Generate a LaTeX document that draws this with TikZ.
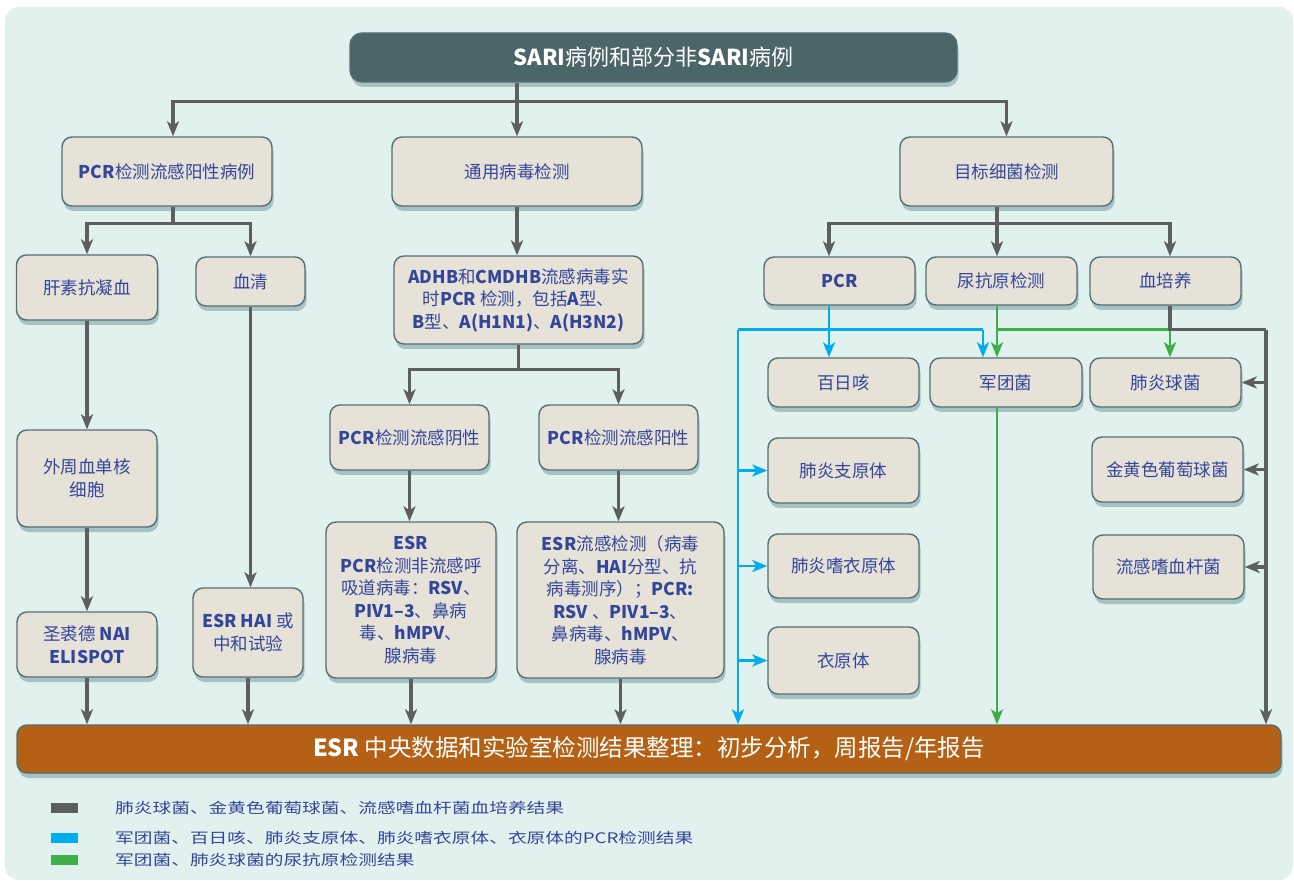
\documentclass[tikz,border=0pt]{standalone}
\usepackage{fontspec}
\setmainfont{Noto Sans CJK SC}
\newfontfamily\legfont{Noto Sans CJK SC}[FakeStretch=1.29]
\usetikzlibrary{arrows.meta,shadows,calc}
\definecolor{panel}{HTML}{E1F1EE}
\definecolor{boxfill}{HTML}{E6E2D8}
\definecolor{boxdraw}{HTML}{566E73}
\definecolor{topfill}{HTML}{4B6569}
\definecolor{barfill}{HTML}{B46015}
\definecolor{tx}{HTML}{34469A}
\definecolor{lgrey}{HTML}{5E5E60}
\definecolor{lblue}{HTML}{00AEEF}
\definecolor{lgreen}{HTML}{3DAE49}
\definecolor{shad}{HTML}{5F8A90}
\begin{document}
\begin{tikzpicture}[x=1pt,y=-1pt,
  box/.style={draw=boxdraw, line width=1.4pt, fill=boxfill, rounded corners=10pt,
    align=center, text=tx, font=\fontsize{17.5}{22.5}\selectfont, inner sep=2pt,
    drop shadow={shadow xshift=1.5pt, shadow yshift=-5pt, fill=shad, opacity=0.45}},
  gline/.style={draw=lgrey, line width=3.2pt},
  garr/.style={gline, -{Stealth[length=15pt,width=12pt,inset=4pt]}},
  bline/.style={draw=lblue, line width=2.9pt},
  barr/.style={bline, -{Stealth[length=15pt,width=12pt,inset=4pt]}},
  gnline/.style={draw=lgreen, line width=2.9pt},
  gnarr/.style={gnline, -{Stealth[length=15pt,width=12pt,inset=4pt]}},
  legsw/.style={minimum width=27pt, minimum height=10pt, inner sep=0pt},
  legtext/.style={anchor=west, text=tx, font=\legfont\fontsize{14.5}{17}\selectfont, inner sep=0pt}
]
\useasboundingbox (0,0) rectangle (1294,882);
\fill[panel, rounded corners=14pt] (5,7) rectangle (1293,880);

% top and bottom bars
\node[box, fill=topfill, text=white, rounded corners=12pt, font=\fontsize{22}{26}\selectfont,
  minimum width=607pt, minimum height=49pt] (top) at (653.5,57.5) {\textbf{SARI}病例和部分非\textbf{SARI}病例};
\node[box, fill=barfill, text=white, rounded corners=10pt, font=\fontsize{23.5}{27}\selectfont,
  minimum width=1264pt, minimum height=48pt] (bar) at (649,749) {\textbf{ESR} 中央数据和实验室检测结果整理：初步分析，周报告/年报告};

% row 2
\node[box, minimum width=210pt, minimum height=69pt] (A) at (167,171.5) {\textbf{PCR}检测流感阳性病例};
\node[box, minimum width=250pt, minimum height=69pt] (B) at (517,171.5) {通用病毒检测};
\node[box, minimum width=213pt, minimum height=69pt] (C) at (1006.5,171.5) {目标细菌检测};

% left branch
\node[box, minimum width=141pt, minimum height=65pt] (gan) at (87,287.5) {肝素抗凝血};
\node[box, minimum width=109pt, minimum height=49pt] (xq) at (250.5,281.5) {血清};
\node[box, minimum width=140pt, minimum height=97pt] (wz) at (87,478.5) {外周血单核\\细胞};
\node[box, minimum width=140pt, minimum height=65pt] (nai) at (87,644.5) {圣裘德 \textbf{NAI}\\\textbf{ELISPOT}};
\node[box, minimum width=110pt, minimum height=89pt] (hai) at (248,632.5) {\textbf{ESR HAI} 或\\中和试验};

% middle branch
\node[box, minimum width=249pt, minimum height=88pt] (adhb) at (518.5,300) {\textbf{ADHB}和\textbf{CMDHB}流感病毒实\\时\textbf{PCR} 检测，包括\textbf{A}型、\\\textbf{B}型、\textbf{A(H1N1)}、\textbf{A(H3N2)}};
\node[box, minimum width=159pt, minimum height=65pt] (neg) at (409.5,437.5) {\textbf{PCR}检测流感阴性};
\node[box, minimum width=159pt, minimum height=65pt] (pos) at (618.5,437.5) {\textbf{PCR}检测流感阳性};
\node[box, minimum width=170pt, minimum height=156pt] (esrl) at (411,600) {\textbf{ESR}\\\textbf{PCR}检测非流感呼\\吸道病毒：\textbf{RSV}、\\\textbf{PIV1–3}、鼻病\\毒、\textbf{hMPV}、\\腺病毒};
\node[box, minimum width=207pt, minimum height=156pt] (esrr) at (620.5,600) {\textbf{ESR}流感检测（病毒\\分离、\textbf{HAI}分型、抗\\病毒测序）；\textbf{PCR:}\\\textbf{RSV} 、\textbf{PIV1–3}、\\鼻病毒、\textbf{hMPV}、\\腺病毒};

% right branch
\node[box, minimum width=151pt, minimum height=48pt] (pcr) at (839.5,281) {\textbf{PCR}};
\node[box, minimum width=151pt, minimum height=48pt] (niao) at (1001.5,281) {尿抗原检测};
\node[box, minimum width=151pt, minimum height=48pt] (xpy) at (1165.5,281) {血培养};
\node[box, minimum width=151pt, minimum height=49pt] (bairi) at (843.5,382.5) {百日咳};
\node[box, minimum width=152pt, minimum height=49pt] (jun) at (1006,382.5) {军团菌};
\node[box, minimum width=151pt, minimum height=49pt] (fyqj) at (1165.5,382.5) {肺炎球菌};
\node[box, minimum width=151pt, minimum height=65pt] (zyt) at (843.5,470.5) {肺炎支原体};
\node[box, minimum width=151pt, minimum height=65pt] (jh) at (1167.5,469.5) {金黄色葡萄球菌};
\node[box, minimum width=151pt, minimum height=64pt] (syy) at (843.5,566) {肺炎嗜衣原体};
\node[box, minimum width=151pt, minimum height=64pt] (lg) at (1168.5,567) {流感嗜血杆菌};
\node[box, minimum width=151pt, minimum height=67pt] (yyt) at (843.5,660.5) {衣原体};

% top level connectors
\coordinate (xa) at (173,0);
\path (B.north) ++(0,-35) coordinate (j0);
\draw[garr] (top.south -| j0) -- (B.north);
\draw[garr] (j0) -| (A.north -| xa);
\draw[garr] (j0) -| (C.north);

% left
\path (A.south -| xa) ++(0,17) coordinate (ja);
\draw[gline] (A.south -| xa) -- (ja);
\draw[garr] (ja) -| (gan.north);
\draw[garr] (ja) -| (xq.north);
\draw[garr] (gan.south) -- (wz.north);
\draw[garr] (wz.south) -- (nai.north);
\draw[garr] (xq.south) -- (xq.south |- hai.north);

% middle
\draw[garr] (B.south) -- (B.south |- adhb.north);
\path (adhb.south) ++(0,25) coordinate (jb);
\draw[gline] (adhb.south) -- (jb);
\draw[garr] (jb) -| (neg.north);
\draw[garr] (jb) -| (pos.north);
\draw[garr] (neg.south) -- (neg.south |- esrl.north);
\draw[garr] (pos.south) -- (pos.south |- esrr.north);
\foreach \n in {nai,hai,esrl,esrr} {\draw[garr] (\n.south) -- (\n.south |- bar.north);}

% right
\coordinate (xr) at (997,0);
\coordinate (xb) at (829,0);
\coordinate (xg) at (1170,0);
\coordinate (xgr) at (1266,0);
\coordinate (xbl) at (738,0);
\coordinate (xbr) at (983,0);
\path (C.south -| xr) ++(0,17) coordinate (jc);
\draw[gline] (C.south -| xr) -- (jc);
\draw[garr] (jc) -| (pcr.north -| xb);
\draw[garr] (jc) -- (niao.north -| xr);
\draw[garr] (jc) -| (xpy.north -| xg);

\path (pcr.south) ++(0,24) coordinate (jy);
% blue
\draw[barr] (pcr.south -| xb) -- (bairi.north -| xb);
\draw[bline] (xbl |- jy) -- (xbr |- jy);
\draw[barr] (xbr |- jy) -- (jun.north -| xbr);
\draw[barr] (xbl |- jy) -- (bar.north -| xbl);
\foreach \n in {zyt,syy,yyt} {\draw[barr] (xbl |- \n.west) -- (\n.west);}
% green
\draw[gnarr] (niao.south -| xr) -- (jun.north -| xr);
\draw[gnline] (xr |- jy) -- (xg |- jy);
\draw[gnarr] (xg |- jy) -- (fyqj.north -| xg);
\draw[gnarr] (jun.south -| xr) -- (bar.north -| xr);
% grey
\draw[gline] (xpy.south -| xg) -- (xg |- jy) -- (xgr |- jy);
\draw[garr] (xgr |- jy) -- (bar.north -| xgr);
\foreach \n in {fyqj,jh,lg} {\draw[garr] (xgr |- \n.east) -- (\n.east);}

% legend
\node[legsw, fill=lgrey] (s1) at (64.5,808) {};
\node[legsw, fill=lblue] (s2) at (64.5,838) {};
\node[legsw, fill=lgreen] (s3) at (64.5,860) {};
\node[legtext] (t1) at (115,808) {肺炎球菌、金黄色葡萄球菌、流感嗜血杆菌血培养结果};
\node[legtext] (t2) at (115,838) {军团菌、百日咳、肺炎支原体、肺炎嗜衣原体、衣原体的PCR检测结果};
\node[legtext] (t3) at (115,860) {军团菌、肺炎球菌的尿抗原检测结果};
\end{tikzpicture}
\end{document}
